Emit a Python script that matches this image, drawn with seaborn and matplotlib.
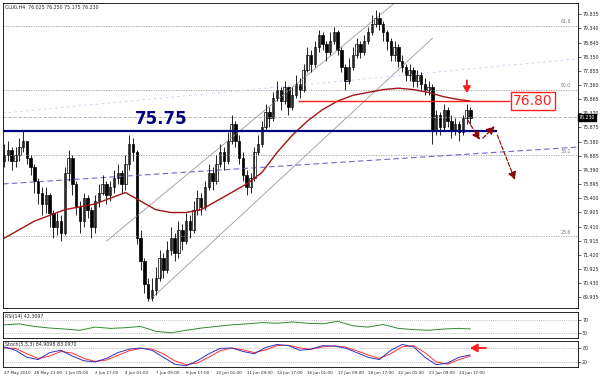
import numpy as np
import pandas as pd
import matplotlib
matplotlib.use("Agg")
import matplotlib.pyplot as plt
import seaborn as sns

# --- data ---
first_open = 74.70
closes = [74.9, 75.1, 74.7, 74.9, 75.2, 75.4, 74.8, 74.5,
          74.0, 73.6, 73.2, 73.5, 72.9, 72.4, 72.6, 72.2,
          74.3, 74.8, 73.9, 73.1, 72.6, 73.4, 73.0, 72.4,
          73.3, 73.6, 73.9, 73.5, 73.8, 74.1, 74.3, 73.9,
          74.6, 75.3, 75.0, 72.0, 71.2, 70.4, 69.9, 70.2,
          70.6, 71.3, 70.9, 71.6, 72.0, 71.5, 72.3, 71.9,
          72.6, 72.3, 73.0, 73.4, 73.1, 73.8, 74.3, 74.0,
          74.6, 75.0, 74.7, 75.4, 76.0, 75.4, 74.8, 74.2,
          73.8, 74.1, 75.0, 75.3, 75.9, 76.4, 76.2, 76.9,
          77.2, 76.8, 77.3, 76.6, 77.0, 77.4, 77.2, 77.9,
          78.4, 78.1, 78.7, 79.1, 78.8, 78.5, 78.9, 79.2,
          78.6, 78.0, 77.5, 78.0, 78.4, 78.8, 78.5, 78.9,
          79.2, 79.5, 79.7, 79.5, 79.2, 78.9, 78.4, 78.7,
          78.2, 78.0, 77.7, 77.9, 77.5, 77.7, 77.4, 77.2,
          77.3, 75.8, 76.3, 75.9, 76.5, 76.1, 75.8, 76.0,
          75.7, 76.2, 76.5, 76.2]
highs = [75.3, 75.4, 75.2, 75.2, 75.5, 75.8, 75.4, 74.9,
         74.6, 74.1, 73.8, 73.8, 73.6, 73.0, 72.9, 72.8,
         74.5, 75.1, 74.9, 74.0, 73.3, 73.6, 73.5, 73.1,
         73.5, 73.9, 74.2, 74.0, 74.0, 74.4, 74.6, 74.4,
         74.9, 75.6, 75.5, 75.1, 72.3, 71.3, 70.6, 70.6,
         71.0, 71.6, 71.5, 71.9, 72.4, 72.2, 72.6, 72.5,
         72.9, 72.8, 73.3, 73.7, 73.6, 74.0, 74.6, 74.5,
         74.9, 75.3, 75.2, 75.7, 76.3, 76.1, 75.6, 75.0,
         74.4, 74.3, 75.2, 75.6, 76.1, 76.7, 76.6, 77.1,
         77.5, 77.3, 77.5, 77.3, 77.3, 77.7, 77.6, 78.1,
         78.7, 78.6, 78.9, 79.3, 79.2, 78.9, 79.2, 79.4,
         79.3, 78.7, 78.1, 78.3, 78.7, 79.0, 78.9, 79.1,
         79.4, 79.8, 80.0, 79.9, 79.6, 79.3, 79.0, 78.9,
         78.8, 78.4, 78.1, 78.1, 78.0, 77.9, 77.8, 77.6,
         77.5, 77.4, 76.5, 76.4, 76.7, 76.6, 76.3, 76.2,
         76.1, 76.3, 76.7, 76.6]
lows = [74.5, 74.7, 74.4, 74.5, 74.7, 75.0, 74.6, 74.2,
        73.6, 73.2, 72.8, 72.9, 72.4, 72.0, 72.1, 71.9,
        72.1, 74.0, 73.5, 72.8, 72.2, 72.4, 72.7, 72.0,
        72.2, 73.1, 73.5, 73.2, 73.3, 73.6, 73.9, 73.6,
        73.7, 74.4, 74.7, 71.8, 70.9, 70.1, 69.8, 69.8,
        70.0, 70.5, 70.6, 70.8, 71.4, 71.2, 71.3, 71.6,
        71.8, 72.0, 72.2, 72.8, 72.8, 73.0, 73.7, 73.7,
        73.9, 74.5, 74.4, 74.6, 75.3, 75.2, 74.6, 74.0,
        73.5, 73.6, 74.0, 74.9, 75.2, 75.8, 75.9, 76.1,
        76.8, 76.5, 76.7, 76.3, 76.5, 76.9, 76.9, 77.1,
        77.8, 77.8, 78.0, 78.5, 78.6, 78.2, 78.4, 78.8,
        78.4, 77.8, 77.2, 77.4, 77.9, 78.3, 78.3, 78.4,
        78.8, 79.1, 79.4, 79.3, 78.9, 78.6, 78.2, 78.2,
        78.0, 77.8, 77.5, 77.5, 77.3, 77.3, 77.2, 77.0,
        77.0, 75.3, 75.6, 75.6, 75.8, 75.9, 75.5, 75.6,
        75.4, 75.6, 76.0, 76.0]

ma_bars = [0, 4, 8, 12, 16, 20, 24, 28, 32, 36, 40, 44, 48, 52, 56, 60,
           64, 68, 72, 76, 80, 84, 88, 92, 96, 100, 104, 108, 112, 116, 120, 123]
ma_vals = [72.0, 72.3, 72.6, 72.8, 73.0, 73.1, 73.2, 73.4, 73.6, 73.3, 73.0, 72.9,
           72.9, 73.0, 73.3, 73.6, 73.9, 74.3, 75.0, 75.6, 76.1, 76.5, 76.8, 77.0,
           77.1, 77.2, 77.25, 77.2, 77.1, 76.95, 76.85, 76.8]

rsi_bars = ma_bars
rsi_vals = [55, 58, 50, 45, 42, 38, 48, 44, 46, 50, 35, 30, 38, 45, 50, 55,
            58, 62, 60, 64, 60, 58, 66, 52, 48, 56, 44, 40, 38, 42, 44, 42.3]

st_bars = list(range(0, 124, 3))
stoch_k = [85, 70, 40, 30, 60, 70, 45, 25, 20, 35, 60, 75, 80, 70, 40, 10,
           3, 25, 55, 78, 80, 65, 55, 82, 95, 90, 70, 75, 90, 88, 80, 60,
           40, 30, 70, 95, 85, 40, 8, 15, 40, 50]
stoch_d = [80, 78, 55, 35, 45, 65, 58, 35, 22, 28, 48, 68, 78, 75, 55, 25,
           8, 15, 40, 68, 80, 72, 60, 72, 90, 92, 80, 74, 85, 89, 84, 68,
           50, 35, 55, 85, 90, 60, 20, 10, 30, 45]

date_labels = ["27 May 2010", "28 May 21:00", "1 Jun 09:00", "2 Jun 17:00",
               "4 Jun 01:00", "7 Jun 09:00", "8 Jun 17:00", "10 Jun 01:00",
               "11 Jun 09:00", "14 Jun 17:00", "16 Jun 01:00", "17 Jun 09:00",
               "18 Jun 17:00", "22 Jun 01:00", "23 Jun 09:00", "24 Jun 17:00"]
date_bars = list(range(0, 128, 8))

price_ticks = [79.835, 79.340, 78.845, 78.350, 77.855, 77.360, 76.865, 76.370,
               75.875, 75.380, 74.885, 74.390, 73.895, 73.400, 72.905, 72.410,
               71.915, 71.420, 70.925, 70.430, 69.935]
fib_levels = [79.43, 77.19, 74.91, 72.08]
fib_labels = ["61.8", "50.0", "38.2", "23.6"]
support, resistance, last_price = 75.75, 76.80, 76.23

df = pd.DataFrame({"close": closes, "high": highs, "low": lows})
df["bar"] = np.arange(len(df))
df["open"] = [first_open] + closes[:-1]


def set_style():
    sns.set_theme(style="white")
    plt.rcParams['font.family'] = ['DejaVu Sans']


def arrow(ax, start, end, color, lw, hw, hl, ls='-'):
    ax.annotate("", xy=end, xytext=start,
                arrowprops=dict(arrowstyle=f'-|>,head_width={hw},head_length={hl}',
                                color=color, lw=lw, ls=ls, shrinkA=0, shrinkB=0))


def plot_chart():
    set_style()
    W, H = 600, 376
    fig = plt.figure(figsize=(6, 3.76), dpi=100)

    def box(x0, y0, x1, y1):
        return [x0 / W, 1 - y1 / H, (x1 - x0) / W, (y1 - y0) / H]

    ax = fig.add_axes(box(3, 3, 578, 308))
    ax_rsi = fig.add_axes(box(3, 312, 578, 338), sharex=ax)
    ax_st = fig.add_axes(box(3, 341, 578, 367), sharex=ax)
    xmin, xmax = -0.3, 151.4
    ax.set_xlim(xmin, xmax)
    ax.set_ylim(69.56, 80.23)

    # fibo levels and current price line
    for lv, lab in zip(fib_levels, fib_labels):
        ax.axhline(lv, color='#999999', lw=0.6, ls=(0, (1.5, 1.5)))
        ax.text(xmax - 1.8, lv + 0.05, lab, fontsize=3.3, color='#777777', ha='right', va='bottom')
    ax.axhline(last_price, color='#aaaaaa', lw=0.6, ls=(0, (4, 2)))

    # trend lines
    ax.plot([xmin, xmax], [73.90, 75.19], color='#6a6ad0', lw=0.8, ls=(0, (5, 3)))
    ax.plot([xmin, xmax], [76.38, 78.28], color='#c8c8f0', lw=0.6, ls=(0, (3, 4)))
    ax.plot([27, 103], [71.90, 80.23], color='#999999', lw=0.6)
    ax.plot([38.5, 113], [69.85, 79.00], color='#999999', lw=0.6)

    # candles
    ax.vlines(df["bar"], df["low"], df["high"], color='black', lw=0.6)
    up = df["close"] >= df["open"]
    body = (df["close"] - df["open"]).abs().clip(lower=0.03)
    bottom = df[["open", "close"]].min(axis=1)
    ax.bar(df["bar"][up], body[up], bottom=bottom[up], width=0.65,
           color='white', edgecolor='black', lw=0.5)
    ax.bar(df["bar"][~up], body[~up], bottom=bottom[~up], width=0.65,
           color='black', edgecolor='black', lw=0.5)

    sns.lineplot(x=ma_bars, y=ma_vals, color='#a31515', lw=1.0, ax=ax)

    # support / resistance
    ax.hlines(support, xmin, 130, color='#000080', lw=1.6)
    ax.text(41.5, support + 0.12, "75.75", color='#000080', fontsize=12,
            fontweight='bold', ha='center', va='bottom')
    ax.hlines(resistance, 77.5, 133.5, color='#ff2020', lw=1.0)
    ax.text(139.5, resistance, "76.80", color='#ff2020', fontsize=10, ha='center', va='center',
            bbox=dict(boxstyle='square,pad=0.15', fc='white', ec='#ff2020', lw=1.0))
    arrow(ax, (122.1, 77.52), (122.1, 77.08), '#ff2020', 1.4, 0.18, 0.3)

    for start, end in [((122.3, 76.14), (125.5, 75.44)), ((126.3, 75.50), (129.4, 75.92)),
                       ((130.1, 75.61), (134.8, 74.04))]:
        arrow(ax, start, end, '#8b0000', 0.8, 0.2, 0.4, ls='--')

    ax.text(0.004, 0.995, "CLU0,H4  76.025 76.250 75.175 76.230", transform=ax.transAxes,
            fontsize=3.4, va='top', ha='left')

    # RSI
    ax_rsi.set_ylim(14, 95)
    for lv in (70, 30):
        ax_rsi.axhline(lv, color='#aaaaaa', lw=0.5, ls=(0, (1.5, 1.5)))
    sns.lineplot(x=rsi_bars, y=rsi_vals, color='#2e8b2e', lw=0.7, ax=ax_rsi)
    ax_rsi.text(0.004, 0.94, "RSI(14) 42.3097", transform=ax_rsi.transAxes,
                fontsize=3.4, va='top')
    ax_rsi.set_yticks([70, 30])

    # Stochastic
    ax_st.set_ylim(-2, 110)
    for lv in (80, 20):
        ax_st.axhline(lv, color='#aaaaaa', lw=0.5, ls=(0, (1.5, 1.5)))
    sns.lineplot(x=st_bars, y=stoch_d, color='#ff3030', lw=0.7, ax=ax_st)
    sns.lineplot(x=st_bars, y=stoch_k, color='#3030c0', lw=0.7, ax=ax_st)
    ax_st.text(0.004, 0.97, "Stoch(5,3,3) 84.9098 83.0970", transform=ax_st.transAxes,
               fontsize=3.4, va='top')
    arrow(ax_st, (127.1, 80), (122.9, 80), '#ff2020', 1.4, 0.2, 0.35)
    ax_st.set_yticks([80, 20])

    for a in (ax, ax_rsi, ax_st):
        a.yaxis.tick_right()
        a.tick_params(axis='y', labelsize=3.4, length=2, width=0.5, pad=1, direction='out')
        a.tick_params(axis='x', length=0)
        a.set_xlabel("")
        a.set_ylabel("")
        for s in a.spines.values():
            s.set_color('black')
            s.set_linewidth(0.6)
        if a.get_legend():
            a.get_legend().remove()
    ax.set_yticks(price_ticks)
    ax.set_yticklabels([f"{v:.3f}" for v in price_ticks])
    plt.setp(ax.get_xticklabels(), visible=False)
    plt.setp(ax_rsi.get_xticklabels(), visible=False)
    ax_st.set_xticks(date_bars)
    ax_st.set_xticklabels(date_labels, fontsize=3.0, ha='left')
    ax_st.tick_params(axis='x', length=2, width=0.5, pad=1.2, direction='out')

    ax.text(xmax + 0.2, last_price, f"{last_price:.3f}", fontsize=3.4, color='white',
            ha='left', va='center', clip_on=False,
            bbox=dict(boxstyle='square,pad=0.2', fc='black', ec='black'))

    fig.savefig("out.png", dpi=100, facecolor='white')


if __name__ == "__main__":
    plot_chart()
